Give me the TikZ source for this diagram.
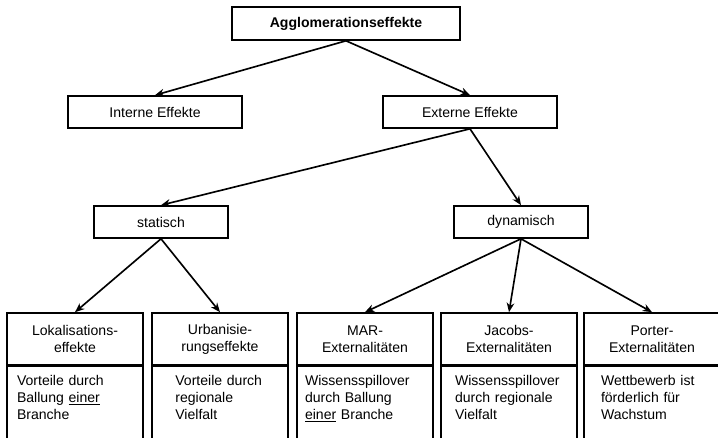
\documentclass[tikz,border=0pt]{standalone}
\usepackage{fontspec}
\setmainfont{Liberation Sans}
\usepackage{tikz}
\usetikzlibrary{arrows.meta}

\begin{document}
\begin{tikzpicture}[>={Stealth[length=8pt, width=6.5pt]}, line width=1.4pt,
  every node/.style={font=\fontsize{12}{14.4}\selectfont},
  box/.style={draw, rectangle, minimum height=0.96cm, inner sep=0pt},
  headbox/.style={draw, rectangle, minimum width=4.08cm, minimum height=1.56cm, align=center, inner sep=0pt},
  bodybox/.style={draw, rectangle, anchor=north, align=left, inner ysep=7.5pt, text depth=2.4cm}]

  \useasboundingbox (0,0) rectangle (21.54,13.14);
  \clip (0,0) rectangle (21.54,13.14);

  \node[box, minimum width=6.84cm, minimum height=0.99cm] (agglo) at (10.38,12.435) {\textbf{Agglomerationseffekte}};

  \node[box, minimum width=5.22cm] (intern) at (4.65,9.78) {Interne Effekte};
  \node[box, minimum width=5.22cm] (extern) at (14.10,9.78) {Externe Effekte};

  \node[box, minimum width=4.02cm] (statisch) at (4.83,6.48) {statisch};
  \node[box, minimum width=4.02cm] (dynamisch) at (15.63,6.48) {dynamisch};

  % Bottom row: a title part and a text part below it (cut off by the page edge).
  \node[headbox] (lokal) at (2.25,2.97) {Lokalisations-\\effekte};
  \node[headbox] (urban) at (6.60,2.97) {Urbanisie-\\rungseffekte};
  \node[headbox] (mar) at (10.95,2.97) {MAR-\\Externalitäten};
  \node[headbox] (jacobs) at (15.27,2.97) {Jacobs-\\Externalitäten};
  \node[headbox] (porter) at (19.56,2.97) {Porter-\\Externalitäten};

  \node[bodybox, inner xsep=0.30cm, text width=3.48cm] (lokaltext) at (lokal.south)
  {Vorteile durch\\Ballung \underline{einer}\\Branche};
  \node[bodybox, inner xsep=0.70cm, text width=2.68cm] (urbantext) at (urban.south)
  {Vorteile durch\\regionale\\Vielfalt};
  \node[bodybox, inner xsep=0.24cm, text width=3.60cm] (martext) at (mar.south)
  {Wissensspillover\\durch Ballung\\\underline{einer} Branche};
  \node[bodybox, inner xsep=0.42cm, text width=3.24cm] (jacobstext) at (jacobs.south)
  {Wissensspillover\\durch regionale\\Vielfalt};
  \node[bodybox, inner xsep=0.51cm, text width=3.06cm] (portertext) at (porter.south)
  {Wettbewerb ist\\förderlich für\\Wachstum};

  \draw[->] (agglo.south) -- (intern.north);
  \draw[->] (agglo.south) -- (extern.north);

  \draw[->] (extern.south) -- (statisch.north);
  \draw[->] (extern.south) -- (dynamisch.north);

  \draw[->] (statisch.south) -- (lokal.north);
  \draw[->] (statisch.south) -- (urban.north);

  \draw[->] (dynamisch.south) -- (mar.north);
  \draw[->] (dynamisch.south) -- (jacobs.north);
  \draw[->] (dynamisch.south) -- (porter.north);

\end{tikzpicture}
\end{document}
